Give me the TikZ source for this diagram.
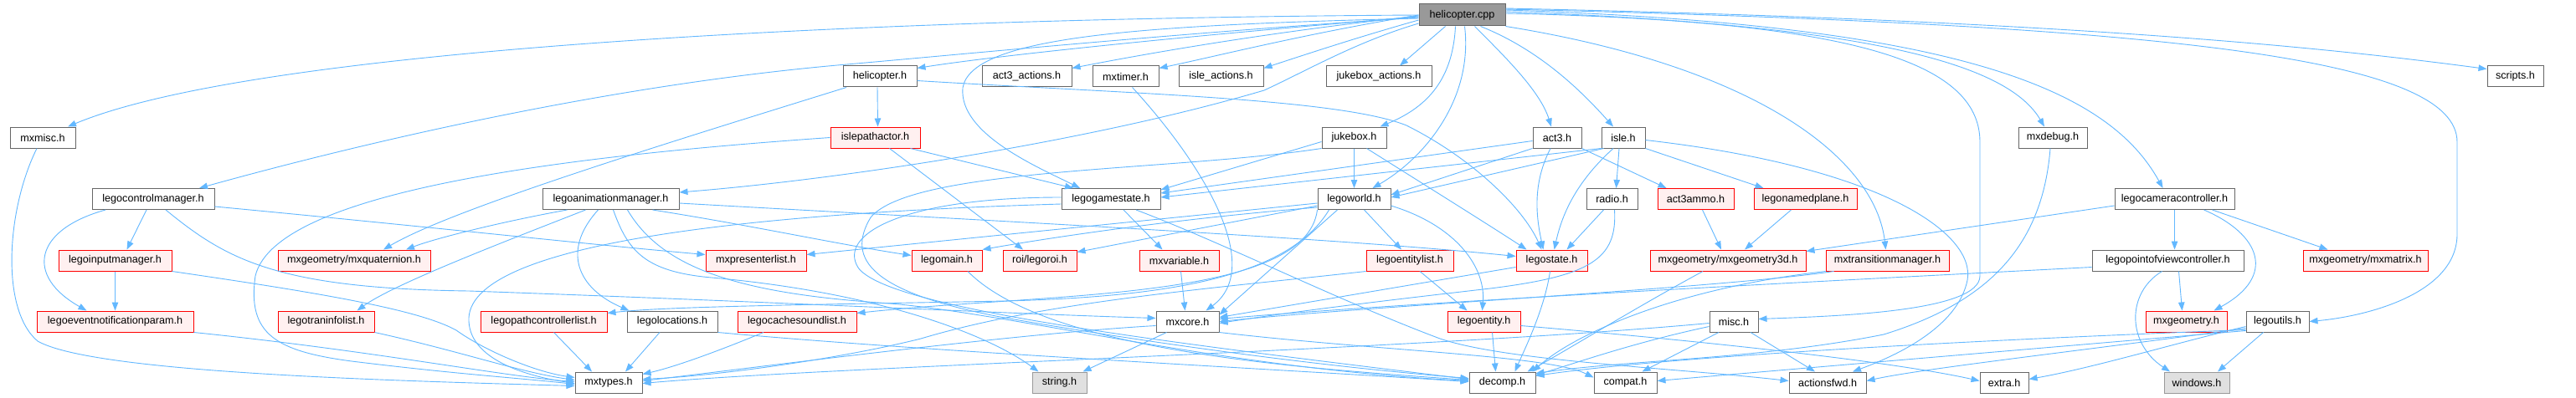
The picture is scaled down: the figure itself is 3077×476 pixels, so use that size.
\documentclass[tikz,border=0pt]{standalone}
\usepackage{fontspec}
\setmainfont{Liberation Sans}
\usetikzlibrary{arrows.meta}
\definecolor{edgec}{HTML}{63B8FF}
\definecolor{grayb}{HTML}{666666}
\definecolor{redfill}{HTML}{FFF0F0}
\definecolor{rootfill}{HTML}{999999}
\definecolor{extfill}{HTML}{E0E0E0}
\definecolor{extb}{HTML}{999999}
\tikzset{
  nd/.style={draw=grayb, line width=1pt, fill=white, minimum height=25pt, inner sep=0pt, font=\fontsize{12.6}{14}\selectfont},
  rn/.style={nd, draw=red, fill=redfill},
  rootn/.style={nd, fill=rootfill, minimum height=26pt},
  xn/.style={nd, draw=extb, fill=extfill},
  e/.style={draw=edgec, line width=0.9pt, -{Triangle[length=10pt,width=7.5pt]}},
}
\begin{document}
\begin{tikzpicture}[x=1pt,y=-1pt]
\useasboundingbox[fill=white] (0,0) rectangle (3077,476);
% row 0
\node[rootn, minimum width=103] (cpp) at (1746.5,18) {helicopter.cpp};
% row 1
\node[nd, minimum width=88] (hh) at (1051,91.5) {helicopter.h};
\node[nd, minimum width=107] (a3a) at (1226.5,91.5) {act3\_actions.h};
\node[nd, minimum width=79] (mxtimer) at (1344.5,91.5) {mxtimer.h};
\node[nd, minimum width=101] (isa) at (1458.5,91.5) {isle\_actions.h};
\node[nd, minimum width=126] (jba) at (1647,91.5) {jukebox\_actions.h};
\node[nd, minimum width=67] (scripts) at (3004.5,91.5) {scripts.h};
% row 2
\node[nd, minimum width=78] (mxmisc) at (51,164.5) {mxmisc.h};
\node[rn, minimum width=107] (ipa) at (1045.5,164.5) {islepathactor.h};
\node[nd, minimum width=77] (jb) at (1617.5,164.5) {jukebox.h};
\node[nd, minimum width=58] (act3) at (1860,164.5) {act3.h};
\node[nd, minimum width=52] (isle) at (1939,164.5) {isle.h};
\node[nd, minimum width=82] (mxdebug) at (2452,164.5) {mxdebug.h};
% row 3
\node[nd, minimum width=146] (lcm) at (183,238) {legocontrolmanager.h};
\node[nd, minimum width=163] (lam) at (729.5,238) {legoanimationmanager.h};
\node[nd, minimum width=118] (lgs) at (1327,238) {legogamestate.h};
\node[nd, minimum width=87] (lw) at (1617.5,238) {legoworld.h};
\node[nd, minimum width=61] (radio) at (1925.5,238) {radio.h};
\node[rn, minimum width=91] (a3ammo) at (2025.5,238) {act3ammo.h};
\node[rn, minimum width=123] (lnp) at (2156.5,238) {legonamedplane.h};
\node[nd, minimum width=143] (lcc) at (2597.5,238) {legocameracontroller.h};
% row 4
\node[rn, minimum width=135] (lim) at (137.5,311.5) {legoinputmanager.h};
\node[rn, minimum width=182] (quat) at (423,311.5) {mxgeometry/mxquaternion.h};
\node[rn, minimum width=120] (mpl) at (903,311.5) {mxpresenterlist.h};
\node[rn, minimum width=84] (lmain) at (1131,311.5) {legomain.h};
\node[rn, minimum width=88] (lroi) at (1242,311.5) {roi/legoroi.h};
\node[rn, minimum width=95] (mxvar) at (1408.5,311.5) {mxvariable.h};
\node[rn, minimum width=104] (lel) at (1684,311.5) {legoentitylist.h};
\node[rn, minimum width=85] (lst) at (1853.5,311.5) {legostate.h};
\node[rn, minimum width=186] (g3d) at (2064,311.5) {mxgeometry/mxgeometry3d.h};
\node[rn, minimum width=147] (mtm) at (2254.5,311.5) {mxtransitionmanager.h};
\node[nd, minimum width=181] (lpov) at (2589.5,311.5) {legopointofviewcontroller.h};
\node[rn, minimum width=149] (mat) at (2825.5,311.5) {mxgeometry/mxmatrix.h};
% row 5
\node[rn, minimum width=187] (lenp) at (137.5,384.5) {legoeventnotificationparam.h};
\node[rn, minimum width=115] (ltil) at (389.5,384.5) {legotraninfolist.h};
\node[rn, minimum width=151] (lpcl) at (649.5,384.5) {legopathcontrollerlist.h};
\node[nd, minimum width=108] (lloc) at (803,384.5) {legolocations.h};
\node[rn, minimum width=142] (lcsl) at (952,384.5) {legocachesoundlist.h};
\node[nd, minimum width=75] (mxcore) at (1418.5,384.5) {mxcore.h};
\node[rn, minimum width=87] (lent) at (1772.5,384.5) {legoentity.h};
\node[nd, minimum width=58] (misc) at (2071,384.5) {misc.h};
\node[rn, minimum width=97] (mxgeo) at (2611.5,384.5) {mxgeometry.h};
\node[nd, minimum width=75] (lutils) at (2720.5,384.5) {legoutils.h};
% row 6
\node[nd, minimum width=80] (mxtypes) at (727,457.5) {mxtypes.h};
\node[xn, minimum width=65] (string) at (1265.5,457.5) {string.h};
\node[nd, minimum width=79] (decomp) at (1794.5,457.5) {decomp.h};
\node[nd, minimum width=75] (compat) at (1941.5,457.5) {compat.h};
\node[nd, minimum width=92] (afwd) at (2183,457.5) {actionsfwd.h};
\node[nd, minimum width=58] (extra) at (2394,457.5) {extra.h};
\node[xn, minimum width=78] (windows) at (2624,457.5) {windows.h};

% ---- edges from helicopter.cpp
\draw[e] (cpp.west) .. controls (1000,22) and (300,60) .. ([xshift=30pt]mxmisc.north);
\draw[e] ([yshift=-3pt]cpp.west) .. controls (1400,40) and (1150,65) .. (1000,78) .. controls (700,105) and (400,180) .. ([xshift=55pt]lcm.north);
\draw[e] ([yshift=-10pt]cpp.west) .. controls (1620,50) and (1560,85) .. (1510,108) .. controls (1300,170) and (1000,215) .. ([yshift=8pt]lam.east);
\draw[e] ([yshift=-2pt]cpp.west) .. controls (1450,40) and (1200,65) .. ([yshift=-3pt]hh.north east);
\draw[e] ([yshift=-1pt]cpp.west) .. controls (1500,40) and (1350,68) .. ([yshift=-3pt]a3a.north east);
\draw[e] (cpp.west) .. controls (1560,40) and (1450,68) .. ([yshift=-3pt]mxtimer.north east);
\draw[e] ([yshift=-6pt]cpp.west) .. controls (1620,45) and (1560,65) .. ([yshift=-3pt]isa.north east);
\draw[e] ([xshift=-20pt]cpp.south) -- ([xshift=25pt]jba.north);
\draw[e] ([xshift=-8pt]cpp.south) .. controls (1735,100) and (1700,130) .. ([xshift=-8pt]jb.north east);
\draw[e] ([xshift=3pt]cpp.south) .. controls (1760,120) and (1700,190) .. ([xshift=22pt]lw.north);
\draw[e] ([xshift=15pt]cpp.south) .. controls (1800,70) and (1840,110) .. ([xshift=-7pt]act3.north);
\draw[e] ([xshift=22pt]cpp.south) .. controls (1840,60) and (1890,110) .. ([xshift=-12pt]isle.north);
\draw[e] ([yshift=-4pt]cpp.west) .. controls (1350,30) and (1160,45) .. (1150,105) .. controls (1145,160) and (1240,200) .. ([xshift=-37pt]lgs.north);
\draw[e] (cpp.south east) .. controls (2100,80) and (2240,190) .. ([xshift=-2pt]mtm.north);
\draw[e] ([yshift=2pt]cpp.east) .. controls (2200,25) and (2365,70) .. (2365,170) -- (2365,330) .. controls (2365,372) and (2200,378) .. ([yshift=3pt]misc.east);
\draw[e] ([yshift=4pt]cpp.east) .. controls (2250,30) and (2400,80) .. ([xshift=-10pt]mxdebug.north);
\draw[e] ([yshift=6pt]cpp.east) .. controls (2350,30) and (2520,110) .. ([xshift=-14pt]lcc.north);
\draw[e] ([yshift=7pt]cpp.east) .. controls (2600,30) and (2935,70) .. (2935,170) -- (2935,280) .. controls (2935,350) and (2830,378) .. (lutils.east);
\draw[e] ([yshift=8pt]cpp.east) .. controls (2500,25) and (2800,60) .. ([yshift=-4pt]scripts.north west);

% ---- helicopter.h
\draw[e] ([xshift=-3pt]hh.south) -- ([xshift=3pt]ipa.north);
\draw[e] ([xshift=-40pt]hh.south) .. controls (800,170) and (540,250) .. ([xshift=35pt]quat.north);
\draw[e] ([yshift=-5pt]hh.east) .. controls (1350,112) and (1600,118) .. (1680,150) .. controls (1760,190) and (1820,250) .. ([xshift=-12pt]lst.north);

% ---- islepathactor.h
\draw[e] ([xshift=42pt]ipa.south) -- ([xshift=-45pt]lgs.north);
\draw[e] ([xshift=17pt]ipa.south) -- ([xshift=-20pt]lroi.north);
\draw[e] (ipa.west) .. controls (700,185) and (330,225) .. (305,330) .. controls (295,400) and (330,420) .. (420,432) .. controls (550,448) and (620,452) .. ([yshift=-2pt]mxtypes.west);

% ---- mxmisc.h
\draw[e] ([xshift=-7pt]mxmisc.south) .. controls (8,250) and (0,370) .. (45,408) .. controls (110,445) and (450,455) .. ([yshift=-4pt]mxtypes.west);

% ---- legocontrolmanager.h
\draw[e] ([xshift=-8pt]lcm.south) -- ([xshift=14pt]lim.north);
\draw[e] ([xshift=-57pt]lcm.south) .. controls (40,275) and (30,330) .. ([xshift=-34pt]lenp.north);
\draw[e] ([yshift=-9pt]lcm.east) .. controls (500,270) and (700,292) .. ([yshift=7pt]mpl.west);
\draw[e] ([xshift=15pt]lcm.south) .. controls (270,310) and (330,345) .. (560,348) .. controls (900,360) and (1200,375) .. ([yshift=4pt]mxcore.west);

% ---- legoinputmanager.h etc.
\draw[e] (lim.south) -- (lenp.north);
\draw[e] (lim.south east) .. controls (380,350) and (500,370) .. (545,395) .. controls (580,420) and (640,445) .. ([yshift=6pt]mxtypes.west);
\draw[e] (lenp.south east) .. controls (450,420) and (600,450) .. ([yshift=1pt]mxtypes.west);
\draw[e] (ltil.south east) .. controls (550,420) and (620,445) .. ([yshift=3pt]mxtypes.west);

% ---- legoanimationmanager.h
\draw[e] ([xshift=-52pt]lam.south) .. controls (600,265) and (520,285) .. ([xshift=62pt]quat.north);
\draw[e] ([xshift=-30pt]lam.south) .. controls (600,290) and (470,340) .. ([xshift=37pt]ltil.north);
\draw[e] ([xshift=-15pt]lam.south) .. controls (670,300) and (690,345) .. ([xshift=3pt]lloc.north west);
\draw[e] ([xshift=3pt]lam.south) .. controls (750,300) and (770,325) .. (850,332) .. controls (1050,350) and (1180,400) .. ([xshift=-25pt]string.north);
\draw[e] ([xshift=20pt]lam.south) .. controls (790,320) and (880,350) .. (1050,362) .. controls (1200,372) and (1450,440) .. ([yshift=2pt]decomp.west);
\draw[e] ([xshift=50pt]lam.south) .. controls (900,270) and (1000,292) .. ([yshift=6pt]lmain.west);
\draw[e] ([yshift=-5pt]lam.east) .. controls (1200,265) and (1600,285) .. ([yshift=5pt]lst.west);

% ---- lists
\draw[e] ([xshift=12pt]lpcl.south) -- ([xshift=-20pt]mxtypes.north);
\draw[e] ([xshift=-15pt]lloc.south) -- ([xshift=20pt]mxtypes.north);
\draw[e] (lloc.south east) .. controls (1100,420) and (1500,440) .. ([yshift=1pt]decomp.west);
\draw[e] ([xshift=-40pt]lcsl.south) .. controls (870,415) and (810,438) .. ([yshift=-3pt]mxtypes.north east);

% ---- legogamestate.h
\draw[e] ([xshift=15pt]lgs.south) -- ([xshift=-20pt]mxvar.north);
\draw[e] ([xshift=30pt]lgs.south) .. controls (1460,290) and (1600,360) .. (1720,405) .. controls (1800,432) and (2000,440) .. ([yshift=2pt]afwd.west);
\draw[e] ([yshift=-6pt]lgs.west) .. controls (900,255) and (565,290) .. (560,380) .. controls (558,430) and (630,450) .. ([yshift=-1pt]mxtypes.west);
\draw[e] ([yshift=2pt]lgs.west) .. controls (1080,236) and (1000,280) .. (1025,320) .. controls (1060,370) and (1400,410) .. ([yshift=4pt]decomp.west);

% ---- legoworld.h
\draw[e] ([xshift=12pt]lw.south) -- ([xshift=-10pt]lel.north);
\draw[e] ([yshift=-8pt]lw.east) .. controls (1740,270) and (1775,320) .. ([xshift=-2pt]lent.north);
\draw[e] ([yshift=-5pt]lw.west) -- ([yshift=7pt]mpl.east);
\draw[e] ([yshift=-8pt]lw.west) -- ([yshift=-3pt]lroi.north east);
\draw[e] ([yshift=-10pt]lw.west) .. controls (1400,262) and (1250,285) .. (lmain.north east);
\draw[e] (lw.south west) .. controls (1560,360) and (1250,350) .. ([yshift=10pt]lcsl.east);
\draw[e] ([xshift=-30pt]lw.south) .. controls (1540,330) and (1400,355) .. (1200,360) .. controls (1000,364) and (800,366) .. ([yshift=10pt]lpcl.east);
\draw[e] ([xshift=-20pt]lw.south) -- ([yshift=8pt]mxcore.east);

% ---- jukebox.h
\draw[e] ([yshift=-5pt]jb.west) -- ([yshift=-2pt]lgs.north east);
\draw[e] (jb.south) -- (lw.north);
\draw[e] ([xshift=15pt]jb.south) .. controls (1700,220) and (1780,270) .. ([xshift=-30pt]lst.north);
\draw[e] (jb.south west) .. controls (1400,205) and (1090,200) .. (1040,260) .. controls (1010,310) and (1040,350) .. (1200,380) .. controls (1400,415) and (1600,440) .. ([yshift=5pt]decomp.west);

% ---- act3.h
\draw[e] ([yshift=-4pt]act3.west) -- ([yshift=-6pt]lgs.north east);
\draw[e] (act3.south west) -- ([yshift=5pt]lw.east);
\draw[e] ([xshift=-8pt]act3.south) .. controls (1830,220) and (1835,260) .. ([xshift=-10pt]lst.north);
\draw[e] (act3.south east) -- ([xshift=-35pt]a3ammo.north);

% ---- isle.h
\draw[e] (isle.south west) -- ([yshift=2pt]lgs.east);
\draw[e] ([xshift=3pt]isle.south west) -- ([yshift=2pt]lw.east);
\draw[e] ([xshift=-12pt]isle.south) .. controls (1880,220) and (1865,260) .. ([xshift=3pt]lst.north);
\draw[e] ([xshift=-5pt]isle.south) -- ([xshift=5pt]radio.north);
\draw[e] (isle.south east) -- ([xshift=-50pt]lnp.north);
\draw[e] ([yshift=-3pt]isle.east) .. controls (2250,200) and (2360,280) .. (2350,335) .. controls (2340,385) and (2280,420) .. ([xshift=30pt]afwd.north);

% ---- radio.h
\draw[e] ([xshift=-10pt]radio.south) -- ([xshift=18pt]lst.north);
\draw[e] ([xshift=3pt]radio.south) .. controls (1932,310) and (1900,330) .. (1780,345) .. controls (1650,360) and (1550,372) .. ([yshift=-2pt]mxcore.east);

% ---- geometry
\draw[e] ([xshift=8pt]a3ammo.south) -- ([xshift=-8pt]g3d.north);
\draw[e] ([xshift=-17pt]lnp.south) -- ([xshift=20pt]g3d.north);
\draw[e] ([yshift=-8pt]lcc.west) -- ([yshift=-2pt]g3d.north east);
\draw[e] (lcc.south) -- ([xshift=8pt]lpov.north);
\draw[e] ([xshift=35pt]lcc.south) .. controls (2700,280) and (2720,330) .. ([xshift=33pt]mxgeo.north);
\draw[e] ([xshift=45pt]lcc.south) -- ([xshift=-45pt]mat.north);
\draw[e] ([xshift=13pt]lpov.south) -- ([xshift=-5pt]mxgeo.north);
\draw[e] ([xshift=-7pt]lpov.south) .. controls (2540,350) and (2540,410) .. ([xshift=-32pt]windows.north);
\draw[e] ([yshift=-8pt]lpov.west) .. controls (2300,330) and (1700,360) .. ([yshift=3pt]mxcore.east);

% ---- bottom right
\draw[e] ([xshift=-3pt]mxdebug.south) .. controls (2440,290) and (2380,360) .. (2250,400) .. controls (2100,430) and (1950,430) .. ([yshift=-2pt]decomp.north east);
\draw[e] (mtm.south west) .. controls (2000,345) and (1880,400) .. ([xshift=-4pt]decomp.north east);
\draw[e] ([xshift=10pt]mtm.south west) .. controls (2050,345) and (1650,365) .. (mxcore.east);
\draw[e] ([xshift=-30pt]g3d.south) .. controls (1950,370) and (1870,420) .. ([xshift=-10pt]decomp.north east);
\draw[e] ([xshift=-18pt]misc.south) -- ([xshift=20pt]compat.north);
\draw[e] ([xshift=20pt]misc.south) -- ([xshift=-15pt]afwd.north);
\draw[e] ([yshift=-6pt]misc.west) .. controls (1950,410) and (1880,435) .. ([yshift=-4pt]decomp.north east);
\draw[e] ([yshift=-2pt]misc.west) .. controls (1700,418) and (1000,438) .. ([yshift=-1pt]mxtypes.east);
\draw[e] ([xshift=-17pt]lutils.south) -- ([xshift=25pt]windows.north);
\draw[e] ([yshift=-6pt]lutils.west) .. controls (2600,410) and (2500,440) .. ([yshift=4pt]extra.east);
\draw[e] ([yshift=-8pt]lutils.west) .. controls (2500,418) and (2300,440) .. ([yshift=2pt]afwd.east);
\draw[e] ([yshift=-10pt]lutils.west) .. controls (2400,405) and (2000,425) .. ([yshift=-5pt]decomp.north east);
\draw[e] ([yshift=-11pt]lutils.west) .. controls (2300,428) and (2100,445) .. ([yshift=2pt]compat.east);

% ---- entities, core
\draw[e] ([xshift=10pt]lent.south) -- ([xshift=-8pt]decomp.north);
\draw[e] ([yshift=-5pt]lent.east) .. controls (2000,405) and (2250,430) .. ([yshift=2pt]extra.west);
\draw[e] ([xshift=12pt]lel.south) -- ([xshift=-20pt]lent.north);
\draw[e] (lel.south west) .. controls (1450,345) and (1250,360) .. (1100,405) .. controls (1000,430) and (850,450) .. ([yshift=4pt]mxtypes.east);
\draw[e] ([xshift=-25pt]mxcore.south) -- ([xshift=-5pt]string.north east);
\draw[e] ([yshift=-5pt]mxcore.west) .. controls (1200,400) and (900,440) .. ([yshift=2pt]mxtypes.east);
\draw[e] (mxcore.south east) .. controls (1650,420) and (1850,425) .. ([yshift=6pt]compat.west);
\draw[e] ([xshift=2pt]mxvar.south) -- ([xshift=-3pt]mxcore.north);
\draw[e] ([xshift=8pt]mxtimer.south) .. controls (1440,200) and (1510,320) .. ([xshift=22pt]mxcore.north);
\draw[e] ([xshift=25pt]lmain.south) .. controls (1250,420) and (1550,440) .. ([yshift=3pt]decomp.west);
\draw[e] ([xshift=-2pt]lst.south) .. controls (1845,370) and (1820,420) .. ([xshift=15pt]decomp.north);
\draw[e] ([yshift=-8pt]lst.west) -- ([yshift=5pt]mxcore.east);
\end{tikzpicture}
\end{document}
